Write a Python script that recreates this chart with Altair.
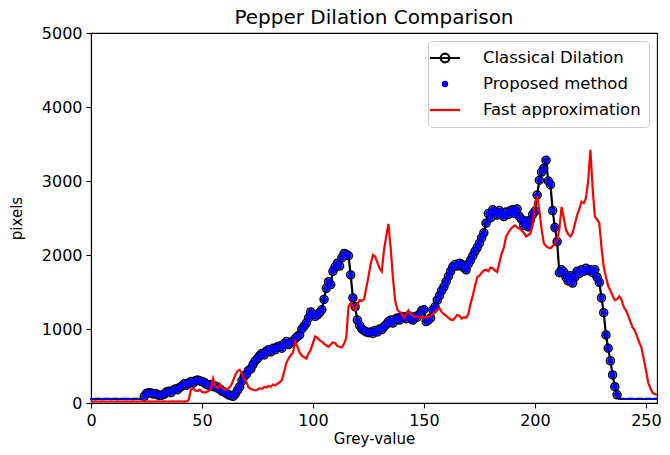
import altair as alt
import pandas as pd

# ---------------- data ----------------
grey = list(range(256))

classical = [
    55, 54, 55, 56, 55, 54, 55, 56, 55, 54,
    55, 56, 55, 54, 55, 55, 56, 55, 54, 55,
    56, 55, 54, 55, 90, 130, 140, 135, 120, 130,
    110, 100, 105, 120, 150, 160, 140, 170, 190, 180,
    210, 230, 260, 240, 270, 290, 270, 300, 310, 300,
    290, 280, 250, 240, 250, 220, 230, 200, 190, 160,
    150, 130, 110, 100, 90, 120, 170, 220, 300, 360,
    390, 440, 460, 520, 570, 600, 640, 670, 650, 700,
    720, 690, 740, 720, 760, 770, 740, 800, 830, 790,
    820, 830, 870, 900, 920, 1000, 1040, 1080, 1150, 1230,
    1200, 1170, 1190, 1220, 1260, 1400, 1550, 1640, 1600, 1780,
    1840, 1890, 1850, 1960, 2020, 2010, 1990, 1730, 1420, 1300,
    1120, 1050, 1000, 980, 960, 950, 960, 940, 980, 960,
    1000, 990, 1030, 1060, 1100, 1120, 1080, 1130, 1150, 1120,
    1170, 1160, 1140, 1180, 1150, 1120, 1170, 1160, 1200, 1250,
    1260, 1100, 1120, 1150, 1260, 1300, 1390, 1450, 1520, 1570,
    1640, 1710, 1780, 1840, 1870, 1850, 1890, 1870, 1830, 1800,
    1880, 1930, 1990, 2050, 2100, 2160, 2230, 2300, 2430, 2560,
    2500, 2610, 2580, 2540, 2600, 2560, 2520, 2580, 2550, 2600,
    2610, 2560, 2620, 2520, 2480, 2400, 2460, 2380, 2470, 2550,
    2590, 2810, 3010, 3120, 3170, 3280, 3000, 2950, 2600, 2370,
    2180, 1760, 1800, 1770, 1700, 1650, 1720, 1620, 1700, 1780,
    1750, 1800, 1780, 1820, 1790, 1800, 1760, 1800, 1700, 1630,
    1420, 1220, 920, 740, 570, 380, 220, 110, 55, 55,
    55, 54, 55, 56, 55, 54, 55, 56, 55, 54,
    55, 56, 55, 54, 55, 55,
]

# the proposed method lies exactly on the classical result
proposed = list(classical)

fast = [
    18, 20, 22, 20, 19, 21, 20, 18, 20, 22,
    20, 19, 21, 20, 18, 20, 22, 20, 19, 21,
    20, 18, 20, 22, 20, 19, 21, 20, 18, 20,
    22, 20, 19, 21, 20, 18, 20, 22, 20, 19,
    21, 20, 18, 20, 40, 180, 200, 170, 160, 180,
    150, 140, 150, 160, 200, 330, 230, 200, 260, 210,
    180, 190, 200, 230, 300, 380, 430, 450, 400, 330,
    280, 210, 190, 180, 170, 180, 200, 190, 220, 210,
    230, 220, 250, 240, 260, 280, 310, 420, 540, 600,
    650, 680, 830, 760, 680, 640, 620, 600, 670, 720,
    810, 900, 880, 850, 830, 800, 780, 760, 790, 820,
    810, 770, 760, 750, 800, 880, 1300, 1350, 1300, 1260,
    1330, 1390, 1380, 1400, 1550, 1710, 1880, 2000, 1980, 1900,
    1820, 1780, 2070, 2250, 2420, 2100, 1700, 1390, 1260, 1230,
    1210, 1150, 1200, 1250, 1200, 1180, 1160, 1170, 1150, 1160,
    1150, 1170, 1160, 1180, 1200, 1230, 1260, 1280, 1230, 1200,
    1180, 1150, 1130, 1120, 1150, 1190, 1180, 1140, 1160, 1150,
    1200, 1340, 1450, 1580, 1700, 1720, 1760, 1790, 1800, 1780,
    1830, 1820, 1790, 1770, 1900, 2020, 2100, 2250, 2300, 2350,
    2380, 2400, 2370, 2360, 2330, 2300, 2250, 2270, 2290, 2400,
    2700, 2800, 2600, 2350, 2160, 2120, 2100, 2090, 2120, 2150,
    2200, 2350, 2650, 2500, 2340, 2280, 2250, 2300, 2420, 2540,
    2620, 2720, 2700, 2770, 3000, 3420, 2900, 2520, 2480, 2430,
    2100, 1840, 1700, 1580, 1520, 1450, 1390, 1400, 1440, 1400,
    1300, 1250, 1180, 1100, 1020, 980, 900, 820, 750, 600,
    450, 280, 200, 140, 120, 110,
]

series_names = ["Classical Dilation", "Proposed method", "Fast approximation"]
series_strokes = ["black", "blue", "red"]
series_fills = ["transparent", "blue", "transparent"]
series_symbols = [
    "M-2,0L2,0M0.58,0A0.58,0.58 0 1,1 -0.58,0A0.58,0.58 0 1,1 0.58,0",
    "M0.28,0A0.28,0.28 0 1,1 -0.28,0A0.28,0.28 0 1,1 0.28,0Z",
    "M-2,0L2,0",
]

x_ticks = [0, 50, 100, 150, 200, 250]
y_ticks = [0, 1000, 2000, 3000, 4000, 5000]

# ---------------- table ----------------
df = pd.DataFrame({
    "g": grey * 3,
    "value": classical + proposed + fast,
    "series": [series_names[0]] * len(grey)
    + [series_names[1]] * len(grey)
    + [series_names[2]] * len(grey),
})

FONT = "DejaVu Sans"

x_enc = alt.X(
    "g:Q",
    scale=alt.Scale(domain=[0, 255], nice=False, zero=False),
    axis=alt.Axis(values=x_ticks, title="Grey-value", grid=False, format="d", labelFlush=False),
)
y_enc = alt.Y(
    "value:Q",
    scale=alt.Scale(domain=[0, 5000], nice=False),
    axis=alt.Axis(values=y_ticks, title="pixels", grid=False, format="d", labelFlush=False),
)

base = alt.Chart(df)
is_cl = alt.datum.series == series_names[0]
is_pr = alt.datum.series == series_names[1]
is_fa = alt.datum.series == series_names[2]

cl_line = base.transform_filter(is_cl).mark_line(
    color="black", strokeWidth=2.2
).encode(x=x_enc, y=y_enc)

cl_pts = base.transform_filter(is_cl & (alt.datum.value > 70)).mark_point(
    shape="circle", size=64, filled=False, color="black", strokeWidth=1.5, opacity=1
).encode(x=x_enc, y=y_enc)

pr_pts = base.transform_filter(is_pr & (alt.datum.value > 70)).mark_point(
    shape="circle", size=40, filled=True, color="blue", opacity=1
).encode(x=x_enc, y=y_enc)

pr_flat = base.transform_filter(is_pr & (alt.datum.value <= 70)).mark_point(
    shape="circle", size=5, filled=True, color="blue", opacity=1
).encode(x=x_enc, y=y_enc)

fa_line = base.transform_filter(is_fa).mark_line(
    color="red", strokeWidth=2.2
).encode(x=x_enc, y=y_enc)

leg = alt.Legend(
    title=None,
    orient="top-right",
    offset=8,
    padding=8,
    fillColor="white",
    strokeColor="#cccccc",
    cornerRadius=4,
    symbolSize=225,
    symbolStrokeWidth=2.2,
    symbolOpacity=1,
    labelFont=FONT,
    labelFontSize=16.5,
    labelColor="black",
    labelOffset=29,
    rowPadding=8,
    labelLimit=300,
)

legend_layer = base.transform_filter("false").mark_point(
    strokeWidth=2.2, opacity=1
).encode(
    x=x_enc,
    y=y_enc,
    stroke=alt.Stroke("series:N", scale=alt.Scale(domain=series_names, range=series_strokes), legend=leg),
    fill=alt.Fill("series:N", scale=alt.Scale(domain=series_names, range=series_fills), legend=leg),
    shape=alt.Shape("series:N", scale=alt.Scale(domain=series_names, range=series_symbols), legend=leg),
)

chart = alt.layer(cl_line, cl_pts, pr_pts, pr_flat, fa_line, legend_layer).properties(
    width=566,
    height=370,
    padding={"left": 91, "top": 33, "right": 13, "bottom": 52},
    autosize=alt.AutoSizeParams(type="none"),
    title=alt.TitleParams(
        "Pepper Dilation Comparison",
        font=FONT,
        fontSize=20,
        fontWeight="normal",
        color="black",
        offset=-3,
    ),
).configure(
    background="white",
).configure_view(
    stroke="black", strokeWidth=1.1
).configure_axis(
    labelFont=FONT,
    labelFontSize=16,
    labelColor="black",
    titleFont=FONT,
    titleFontSize=15,
    titleFontWeight="normal",
    titleColor="black",
    domainColor="black",
    domainWidth=1.1,
    tickColor="black",
    tickWidth=1.1,
    tickSize=5,
    labelPadding=4,
).configure_axisX(
    titlePadding=3,
).configure_axisY(
    titlePadding=17,
)

chart.save("out.html", embed_options={"renderer": "svg", "actions": False})
